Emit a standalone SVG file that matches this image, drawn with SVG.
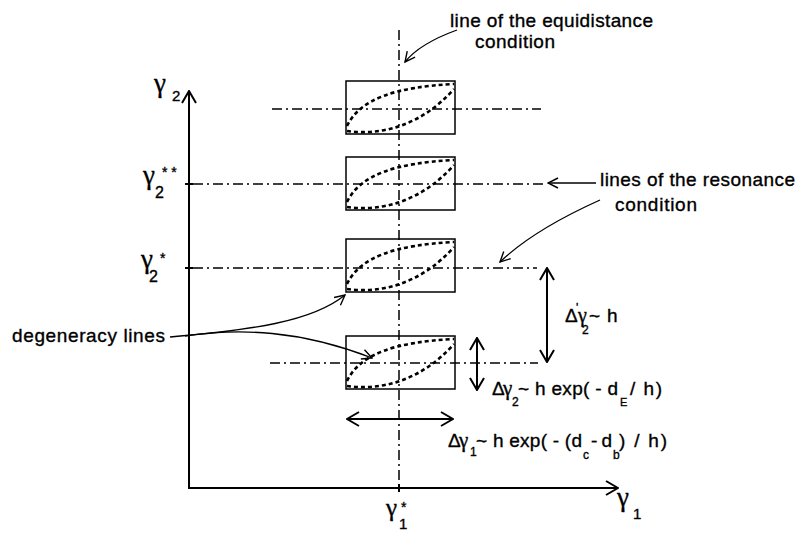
<svg xmlns="http://www.w3.org/2000/svg" width="798" height="538" viewBox="0 0 798 538">
<style>
  text { font-family: "Liberation Sans", Arial, sans-serif; fill: #000; stroke: #000; stroke-width: 0.35; }
  .lbl { font-size: 19px; }
  .g { font-family: "Liberation Serif", "Times New Roman", serif; }
  .box { fill: none; stroke: #000; stroke-width: 1.5; }
  .dots { fill: none; stroke: #000; stroke-width: 2.6; stroke-dasharray: 4 3; }
  .dd { fill: none; stroke: #000; stroke-width: 1.5; stroke-dasharray: 10 4 2 4; }
  .axis { fill: none; stroke: #000; stroke-width: 2; }
  .ptr { fill: none; stroke: #000; stroke-width: 1.3; }
  .dbl { fill: none; stroke: #000; stroke-width: 2; }
</style>
<defs>
  <marker id="open" viewBox="0 0 12 12" refX="11" refY="6" markerWidth="12" markerHeight="12" markerUnits="userSpaceOnUse" orient="auto">
    <path d="M1,1 L11,6 L1,11" fill="none" stroke="#000" stroke-width="1.4"/>
  </marker>
  <marker id="big" viewBox="0 0 14 16" refX="13" refY="8" markerWidth="14" markerHeight="16" markerUnits="userSpaceOnUse" orient="auto-start-reverse">
    <path d="M1,1 L13,8 L1,15" fill="none" stroke="#000" stroke-width="2"/>
  </marker>
  <g id="lens">
    <path class="dots" d="M347,45 C360,18 395,6 454,3"/>
    <path class="dots" d="M347,50 C382,55 422,44 454,8"/>
  </g>
</defs>

<g id="axes">
  <line class="axis" x1="189" y1="489" x2="189" y2="91" marker-end="url(#big)"/>
  <line class="axis" x1="188" y1="488" x2="618" y2="488" marker-end="url(#big)"/>
  <line class="axis" x1="185" y1="184" x2="193" y2="184"/>
  <line class="axis" x1="185" y1="268" x2="193" y2="268"/>
  <line class="axis" x1="399" y1="484" x2="399" y2="492"/>
</g>

<g id="guides">
  <line class="dd" x1="399" y1="30" x2="399" y2="486"/>
  <line class="dd" x1="272" y1="109" x2="541" y2="109"/>
  <line class="dd" x1="193" y1="184" x2="546" y2="184"/>
  <line class="dd" x1="193" y1="268" x2="537" y2="268"/>
  <line class="dd" x1="270" y1="363" x2="538" y2="363"/>
</g>

<g id="cell1">
  <rect class="box" x="346" y="81" width="109" height="53"/>
  <use href="#lens" y="81"/>
</g>
<g id="cell2">
  <rect class="box" x="346" y="157" width="109" height="53"/>
  <use href="#lens" y="157"/>
</g>
<g id="cell3">
  <rect class="box" x="346" y="239" width="109" height="53"/>
  <use href="#lens" y="239"/>
</g>
<g id="cell4">
  <rect class="box" x="346" y="336" width="109" height="53"/>
  <use href="#lens" y="336"/>
</g>

<g id="connectors">
  <path class="ptr" d="M457,30 C435,38 416,48 405,62" marker-end="url(#open)"/>
  <path class="ptr" d="M596,183 L548,183" marker-end="url(#open)"/>
  <path class="ptr" d="M600,200 C560,218 525,238 500,262" marker-end="url(#open)"/>
  <path class="ptr" d="M170,337 C250,330 312,322 345,295" marker-end="url(#open)"/>
  <path class="ptr" d="M185,336 C240,328 300,330 372,358" marker-end="url(#open)"/>
  <line class="dbl" x1="547" y1="268" x2="547" y2="362" marker-start="url(#big)" marker-end="url(#big)"/>
  <line class="dbl" x1="477" y1="338" x2="477" y2="390" marker-start="url(#big)" marker-end="url(#big)"/>
  <line class="dbl" x1="347" y1="419" x2="453" y2="419" marker-start="url(#big)" marker-end="url(#big)"/>
</g>

<g id="labels">
  <text class="lbl" x="450" y="27" textLength="203">line of the equidistance</text>
  <text class="lbl" x="475" y="48" textLength="80">condition</text>
  <text class="lbl" x="600" y="186" textLength="195">lines of the resonance</text>
  <text class="lbl" x="615" y="211" textLength="82">condition</text>
  <text class="lbl" x="12" y="342" textLength="153">degeneracy lines</text>

  <!-- axis labels -->
  <text><tspan class="g" x="154" y="92" font-size="27">γ</tspan><tspan x="172" y="101" font-size="15">2</tspan></text>
  <text><tspan class="g" x="143" y="184" font-size="27">γ</tspan><tspan x="162" y="177" font-size="14">* *</tspan><tspan x="155" y="198" font-size="16">2</tspan></text>
  <text><tspan class="g" x="141" y="268" font-size="27">γ</tspan><tspan x="160" y="263" font-size="14">*</tspan><tspan x="149" y="282" font-size="16">2</tspan></text>
  <text><tspan class="g" x="386" y="516" font-size="25">γ</tspan><tspan x="401" y="512" font-size="14">*</tspan><tspan x="399" y="529" font-size="15">1</tspan></text>
  <text><tspan class="g" x="617" y="506" font-size="27">γ</tspan><tspan x="633" y="519" font-size="15">1</tspan></text>

  <!-- delta' gamma2 ~ h -->
  <text class="lbl"><tspan x="565" y="322">Δ</tspan><tspan x="576" y="312" font-size="12">'</tspan><tspan class="g" x="578" y="322" font-size="20">γ</tspan><tspan x="582" y="334" font-size="12">2</tspan><tspan x="589" y="322">~</tspan><tspan x="607" y="322">h</tspan></text>

  <!-- delta gamma2 -->
  <text class="lbl"><tspan x="492" y="395">Δ</tspan><tspan class="g" x="503" y="395" font-size="21">γ</tspan><tspan x="512" y="406" font-size="12">2</tspan><tspan x="518" y="395" textLength="100">~ h exp( - d</tspan><tspan x="620" y="406" font-size="11">E</tspan><tspan x="630" y="395" textLength="32">/ h)</tspan></text>

  <!-- delta gamma1 -->
  <text class="lbl"><tspan x="448" y="447">Δ</tspan><tspan class="g" x="459" y="447" font-size="21">γ</tspan><tspan x="470" y="456" font-size="12">1</tspan><tspan x="476" y="447" textLength="106">~ h exp( - (d</tspan><tspan x="583" y="459" font-size="12">c</tspan><tspan x="591" y="447" textLength="21">- d</tspan><tspan x="613" y="459" font-size="12">b</tspan><tspan x="619" y="447" textLength="48">)  / h)</tspan></text>
</g>
</svg>
